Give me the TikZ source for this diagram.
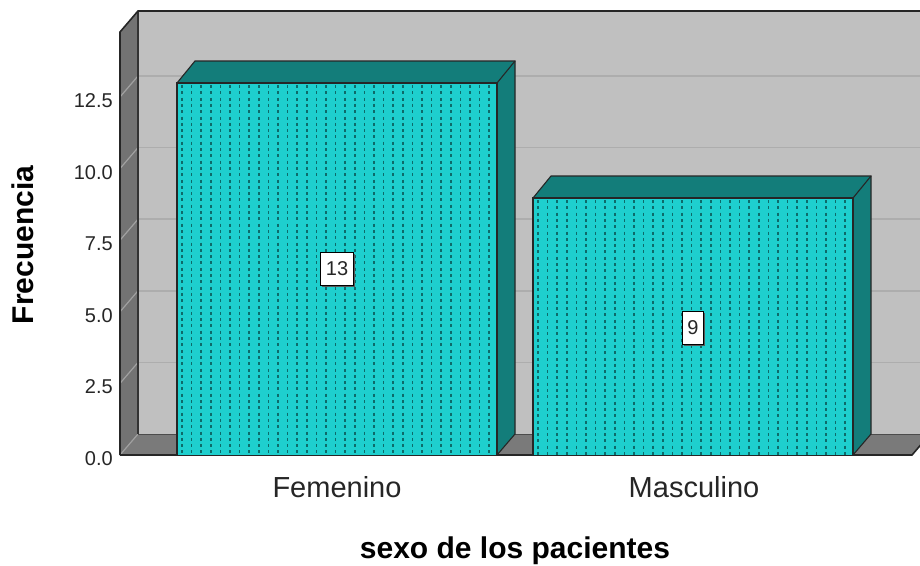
\documentclass[tikz,border=0pt]{standalone}
\usepackage{fontspec}
\setmainfont{Liberation Sans}
\usetikzlibrary{shadows}
\definecolor{wall}{HTML}{C0C0C0}
\definecolor{sidewall}{HTML}{737373}
\definecolor{floorc}{HTML}{7A7A7A}
\definecolor{gridc}{HTML}{ADADAD}
\definecolor{barfront}{HTML}{1ECFCE}
\definecolor{bartop}{HTML}{137D7A}
\definecolor{dotc}{HTML}{0D6B6A}
\newcommand\drawbar[3]{%
  % #1 = left x of front, #2 = right x of front, #3 = top y of front
  \fill[bartop] (#2,#3) -- ({#2+18},{#3-22}) -- ({#2+18},434) -- (#2,455) -- cycle;
  \fill[bartop] (#1,#3) -- (#2,#3) -- ({#2+18},{#3-22}) -- ({#1+18},{#3-22}) -- cycle;
  \fill[barfront] (#1,#3) rectangle (#2,455);
  \begin{scope}
    \clip (#1,#3) rectangle (#2,455);
    \foreach \i in {0,...,33}{
      \draw[dotc, line width=1.5, dash pattern=on 3 off 3.3] ({#1+5+9.6*\i},{#3+2}) -- ({#1+5+9.6*\i},455);
    }
  \end{scope}
  \draw[edge] (#1,455) -- (#1,#3) -- (#2,#3) -- (#2,455);
  \draw[edge] (#1,#3) -- ({#1+18},{#3-22}) -- ({#2+18},{#3-22}) -- ({#2+18},434) -- (#2,455);
  \draw[edge] (#2,#3) -- ({#2+18},{#3-22});
}
\begin{document}
\begin{tikzpicture}[x=1pt,y=-1pt,
  edge/.style={draw=black!85, line width=1.1},
  ticklab/.style={anchor=base east, inner sep=0, text=black!85, font=\fontsize{20}{24}\selectfont},
  catlab/.style={anchor=base, inner sep=0, text=black!85, font=\fontsize{29}{33}\selectfont},
  titlelab/.style={anchor=base, inner sep=0, text=black, font=\bfseries\fontsize{30}{35}\selectfont},
  valbox/.style={fill=white, draw=black, line width=1.2, inner xsep=5, inner ysep=0,
    minimum height=33, text=black!85, font=\fontsize{20}{23}\selectfont,
    drop shadow={shadow xshift=1.5pt, shadow yshift=-1.5pt, fill=black!65, opacity=1}}]
\useasboundingbox (0,0) rectangle (920,565);
\fill[white] (0,0) rectangle (920,565);
\begin{scope}
\clip (0,0) rectangle (920,565);
% back wall
\fill[wall] (138,11) rectangle (930,434);
\foreach \k in {1,...,5}{
  \draw[gridc, line width=1.6] (138,{434-71.6*\k}) -- (930,{434-71.6*\k});
}
% left wall
\fill[sidewall] (120,32) -- (138,11) -- (138,434) -- (120,455) -- cycle;
% floor
\fill[floorc] (120,455) -- (138,434) -- (940,434) -- (912,455) -- cycle;
\fill[white] (912,455) -- (930,434) -- (940,434) -- (940,470) -- (900,470) -- cycle;
\foreach \k in {0,...,5}{
  \draw[gridc!80!sidewall, line width=1.2] (120,{455-71.6*\k}) -- (138,{434-71.6*\k});
}
\draw[black!70, line width=1] (138,434) -- (930,434);
\draw[black!80, line width=1.2] (138,11) -- (138,434);
% outline
\draw[black!85, line width=1.6] (120,455) -- (120,32) -- (138,11) -- (930,11);
\draw[black!85, line width=1.6] (120,455) -- (912,455) -- (930,434);
% bars
\drawbar{177}{497}{83}
\drawbar{533}{853}{198}
\end{scope}
% value labels
\node[valbox] (v13) at (337,269) {13};
\node[valbox] (v9) at (693,328) {9};
% tick labels
\foreach \v/\k in {0.0/0,2.5/1,5.0/2,7.5/3,10.0/4,12.5/5}{
  \node[ticklab] (t\k) at (113,{455-71.6*\k+10.5}) {\v};
}
% category labels
\node[catlab] (fem) at (337,497) {Femenino};
\node[catlab] (mas) at (694,497) {Masculino};
% axis titles
\node[titlelab] (xt) at (515,558) {sexo de los pacientes};
\node[titlelab, rotate=90] (yt) at (33,245) {Frecuencia};
\end{tikzpicture}
\end{document}
